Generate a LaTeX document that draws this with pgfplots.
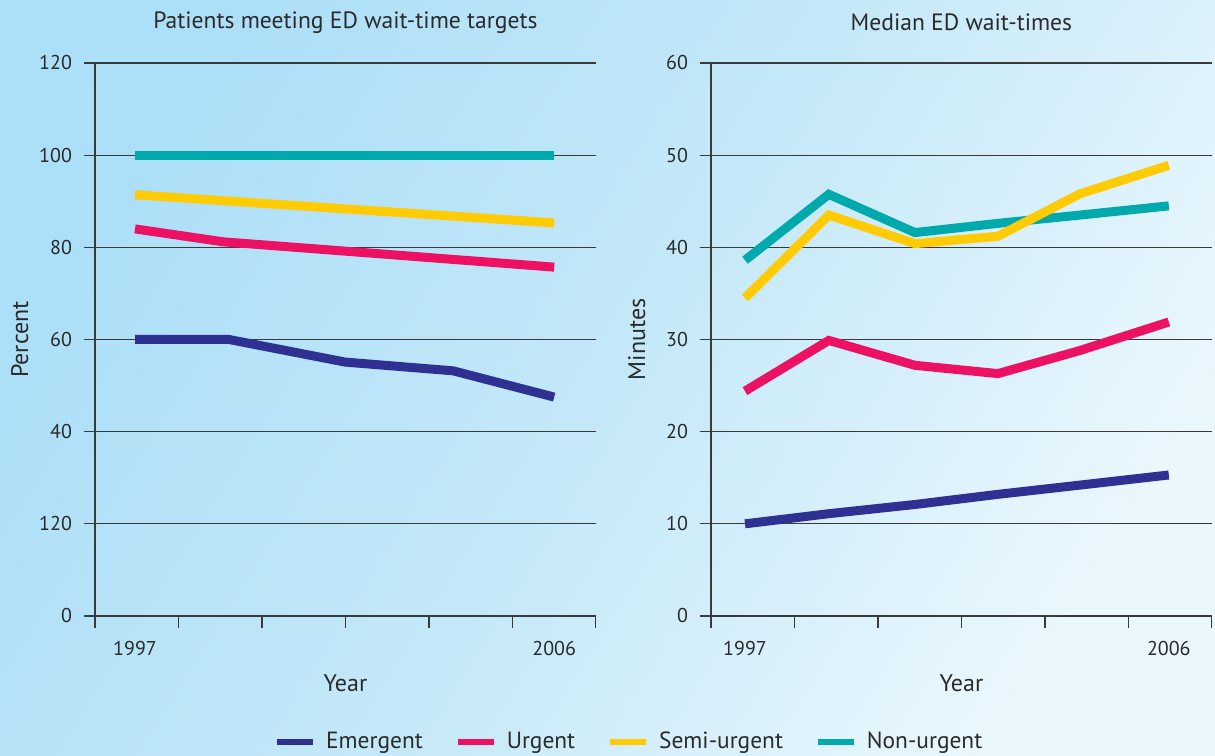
\documentclass[border=0pt]{standalone}
\usepackage{pgfplots}
\pgfplotsset{compat=1.18}
\usepackage{fontspec}
\setmainfont{PT Sans}
\definecolor{emerg}{HTML}{2E3192}
\definecolor{urg}{HTML}{ED1164}
\definecolor{semi}{HTML}{FFCB05}
\definecolor{non}{HTML}{00A9AC}
\definecolor{txt}{HTML}{2A2A2A}
\definecolor{gridc}{HTML}{3A3A3A}
\definecolor{bgA}{HTML}{ACDFF8}
\definecolor{bgM}{HTML}{C4E8F8}
\definecolor{bgB}{HTML}{EAF7FD}
\pgfdeclareverticalshading{bgshade}{100bp}{color(0bp)=(bgB); color(25bp)=(bgB); color(50bp)=(bgM); color(75bp)=(bgA); color(100bp)=(bgA)}
\pgfplotsset{
  common/.style={
    scale only axis, anchor=south west,
    width=250.4pt, height=276.5pt,
    axis lines=left, axis line style={-, gridc, line width=0.65pt},
    tick align=outside,
    ymajorgrids, major grid style={gridc, line width=0.65pt},
    major tick length=5.5pt, minor tick length=6pt,
    major x tick style={draw=none},
    major y tick style={gridc, line width=0.65pt},
    minor x tick style={gridc, line width=0.65pt},
    /pgf/number format/assume math mode=true,
    tick label style={font=\fontsize{10}{12}\selectfont, text=txt},
    yticklabel style={xshift=-2.5pt},
    xticklabel style={anchor=center, yshift=-11pt},
    label style={font=\fontsize{12}{14}\selectfont, text=txt},
    xlabel style={at={(axis description cs:0.5,-0.121)}, anchor=center},
    title style={font=\fontsize{11.8}{14}\selectfont, text=txt, at={(axis description cs:0.5,1.052)}, anchor=center},
    xtick={1997,2006}, xticklabels={1997,2006},
    every axis plot/.append style={line width=4.5pt},
    clip=false,
  }
}
\begin{document}
\begin{tikzpicture}
\path[use as bounding box] (0,0) rectangle (607.5pt,377.5pt);
\begin{scope}
\clip (0,0) rectangle (607.5pt,377.5pt);
\shade[shading=bgshade, shading angle=58] (0,0) rectangle (607.5pt,377.5pt);
\end{scope}
\begin{axis}[common,
  at={(47.5pt,69.5pt)},
  xmin=1996.141, xmax=2006.893, ymin=0, ymax=120,
  minor xtick={1996.141,1997.933,1999.725,2001.517,2003.309,2005.101,2006.893},
  ytick={0,20,40,60,80,100,120},
  yticklabels={0,120,40,60,80,100,120},
  title={Patients meeting ED wait-time targets},
  xlabel={Year}, ylabel={Percent},
  ylabel style={at={(axis description cs:-0.15,0.5)}, anchor=center},
  legend style={at={(1.0687,-0.2278)}, anchor=center, draw=none, fill=none,
    legend columns=4, font=\fontsize{11.7}{14}\selectfont, text=txt,
    /tikz/every odd column/.append style={column sep=3pt},
    /tikz/every even column/.append style={column sep=14pt}},
  legend image code/.code={\draw[#1, line width=3pt] (0pt,0pt) -- (18pt,0pt);},
]
\addplot[emerg] coordinates {(1997,60) (1999.02,60) (2001.51,55.1) (2003.83,53.2) (2006,47.5)};
\addlegendentry{Emergent}
\addplot[urg] coordinates {(1997,84.0) (1998.89,81.2) (2006,75.7)};
\addlegendentry{Urgent}
\addplot[semi] coordinates {(1997,91.4) (2006,85.3)};
\addlegendentry{Semi-urgent}
\addplot[non] coordinates {(1997,100) (2006,100)};
\addlegendentry{Non-urgent}
\end{axis}
\begin{axis}[common,
  at={(355.5pt,69.5pt)},
  xmin=1996.278, xmax=2006.913, ymin=0, ymax=60,
  minor xtick={1996.278,1998.051,1999.823,2001.596,2003.368,2005.141,2006.913},
  ytick={0,10,20,30,40,50,60},
  title={Median ED wait-times},
  xlabel={Year}, ylabel={Minutes},
  ylabel style={at={(axis description cs:-0.148,0.5)}, anchor=center},
]
\addplot[emerg] coordinates {(1997,10.0) (1998.78,11.1) (2000.61,12.1) (2002.37,13.2) (2004.11,14.2) (2006,15.3)};
\addplot[urg] coordinates {(1997,24.4) (1998.78,29.9) (2000.61,27.2) (2002.37,26.3) (2004.11,28.8) (2006,31.9)};
\addplot[non] coordinates {(1997,38.6) (1998.78,45.75) (2000.61,41.6) (2002.37,42.6) (2004.11,43.5) (2006,44.5)};
\addplot[semi] coordinates {(1997,34.5) (1998.78,43.5) (2000.61,40.4) (2002.37,41.2) (2004.11,45.8) (2006,48.9)};
\end{axis}
\end{tikzpicture}
\end{document}
